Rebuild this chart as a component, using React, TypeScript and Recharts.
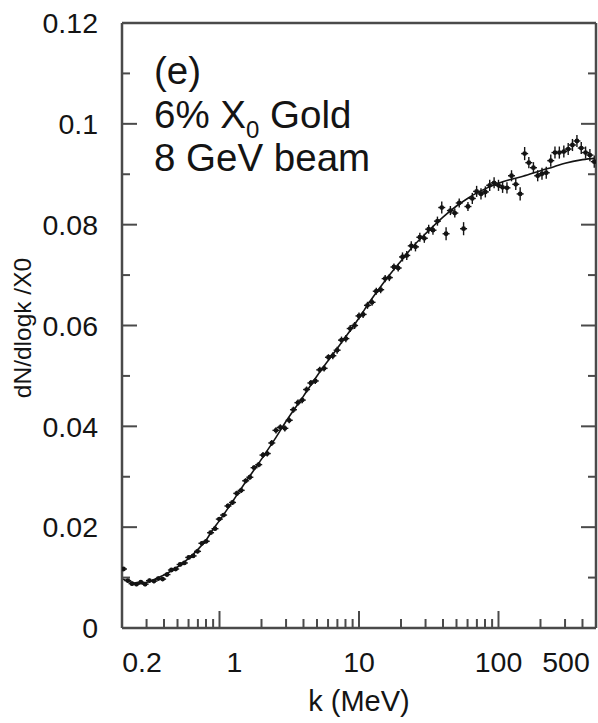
import { ComposedChart, Line, Scatter, ErrorBar, XAxis, YAxis, ReferenceLine } from 'recharts';

// photon energy bins (MeV) and measured dN/dlogk /X0 with errors
const kValues = [
  0.205, 0.22, 0.236, 0.254, 0.273, 0.293, 0.315, 0.339, 0.364, 0.391, 0.42, 0.452, 0.485, 0.522, 0.56, 0.602,
  0.647, 0.696, 0.748, 0.803, 0.863, 0.928, 0.997, 1.07, 1.15, 1.24, 1.33, 1.43, 1.54, 1.65, 1.77, 1.91,
  2.05, 2.2, 2.37, 2.54, 2.73, 2.94, 3.16, 3.39, 3.65, 3.92, 4.21, 4.52, 4.86, 5.23, 5.62, 6.04,
  6.49, 6.97, 7.49, 8.05, 8.65, 9.3, 10.0, 10.7, 11.5, 12.4, 13.3, 14.3, 15.4, 16.5, 17.8, 19.1,
  20.5, 22.0, 23.7, 25.4, 27.3, 29.4, 31.6, 33.9, 36.5, 39.2, 42.1, 45.2, 48.6, 52.3, 56.2, 60.4,
  64.9, 69.7, 74.9, 80.5, 86.5, 93.0, 100, 107, 115, 124, 133, 143, 154, 165, 178, 191,
  205, 220, 237, 254, 273, 294, 316, 339, 365, 392, 421, 452, 486,
];

const yieldValues = [
  0.0117, 0.0094, 0.0088, 0.0087, 0.0091, 0.0087, 0.0094, 0.0093, 0.0098, 0.0097, 0.0106, 0.0115, 0.0117, 0.0126, 0.0129, 0.014,
  0.0143, 0.0152, 0.0168, 0.0172, 0.0189, 0.0197, 0.0216, 0.0224, 0.0242, 0.0249, 0.0267, 0.0273, 0.0292, 0.0299, 0.0318, 0.0324,
  0.0343, 0.0346, 0.0367, 0.0392, 0.0398, 0.0396, 0.0412, 0.0433, 0.0447, 0.0452, 0.0473, 0.0486, 0.049, 0.0512, 0.0515, 0.0537,
  0.054, 0.0551, 0.0571, 0.0574, 0.0594, 0.06, 0.0619, 0.0622, 0.064, 0.0646, 0.0668, 0.0671, 0.0693, 0.0695, 0.0716, 0.0714,
  0.0736, 0.0739, 0.0758, 0.0756, 0.0775, 0.0773, 0.0791, 0.0789, 0.0807, 0.0834, 0.0782, 0.0828, 0.0823, 0.0843, 0.0792, 0.0836,
  0.0852, 0.0866, 0.0861, 0.0865, 0.0878, 0.0883, 0.0878, 0.0874, 0.0873, 0.0897, 0.088, 0.0861, 0.0941, 0.0923, 0.0913, 0.0897,
  0.0901, 0.0903, 0.0927, 0.0943, 0.0943, 0.0945, 0.095, 0.0958, 0.0966, 0.0952, 0.0943, 0.0938, 0.0925,
];

const errValues = [
  0.0004, 0.0004, 0.0004, 0.0004, 0.0004, 0.0004, 0.0004, 0.0004, 0.0004, 0.0004, 0.0004, 0.0004, 0.0004, 0.0004, 0.0004, 0.0004,
  0.0004, 0.0004, 0.0004, 0.0004, 0.0004, 0.0004, 0.0004, 0.0004, 0.0005, 0.0005, 0.0005, 0.0005, 0.0005, 0.0005, 0.0005, 0.0005,
  0.0006, 0.0006, 0.0006, 0.0006, 0.0006, 0.0006, 0.0006, 0.0006, 0.0006, 0.0006, 0.0006, 0.0006, 0.0006, 0.0006, 0.0006, 0.0006,
  0.0007, 0.0007, 0.0007, 0.0007, 0.0007, 0.0007, 0.0007, 0.0007, 0.0007, 0.0007, 0.0007, 0.0007, 0.0007, 0.0007, 0.0007, 0.0007,
  0.0009, 0.0009, 0.0009, 0.0009, 0.0009, 0.0009, 0.0009, 0.0009, 0.0009, 0.0012, 0.0013, 0.0009, 0.0009, 0.0009, 0.0013, 0.0009,
  0.0011, 0.0011, 0.0011, 0.0011, 0.0011, 0.0011, 0.0011, 0.0011, 0.0011, 0.0011, 0.0011, 0.0013, 0.0013, 0.0011, 0.0011, 0.0011,
  0.0012, 0.0012, 0.0012, 0.0012, 0.0012, 0.0012, 0.0012, 0.0012, 0.0012, 0.0012, 0.0012, 0.0012, 0.0012,
];

// simulation curve
const curveK = [
  0.2, 0.22, 0.25, 0.28, 0.32, 0.36, 0.4, 0.45, 0.5, 0.56, 0.63, 0.7, 0.8, 0.9, 1, 1.2, 1.5, 2, 2.5, 3, 4, 5,
  6, 7, 8, 10, 12, 15, 20, 25, 30, 40, 50, 60, 70, 80, 100, 120, 150, 200, 250, 300, 400, 500,
];
const curveV = [
  0.0098, 0.0093, 0.0089, 0.0089, 0.0093, 0.0099, 0.0105, 0.0113, 0.0121, 0.0131, 0.0143, 0.0156, 0.0174, 0.0196,
  0.0213, 0.0245, 0.0285, 0.0335, 0.0375, 0.041, 0.046, 0.05, 0.053, 0.0555, 0.0577, 0.0615, 0.0648, 0.0685, 0.0728,
  0.076, 0.0782, 0.0815, 0.0837, 0.0852, 0.0863, 0.0871, 0.0882, 0.0889, 0.0896, 0.0907, 0.0915, 0.0922, 0.0929, 0.0932,
];

const xTicks = [0.2, 0.3, 0.4, 0.5, 0.6, 0.7, 0.8, 0.9, 1, 2, 3, 4, 5, 6, 7, 8, 9, 10, 20, 30, 40, 50, 60, 70, 80, 90, 100, 200, 300, 400, 500];
const xMajor = [1, 10, 100];
const xLabels: Record<number, string> = { 0.2: '0.2', 1: '1', 10: '10', 100: '100', 500: '500' };
const yTicks = [0, 0.01, 0.02, 0.03, 0.04, 0.05, 0.06, 0.07, 0.08, 0.09, 0.1, 0.11, 0.12];

const FONT = '"Liberation Sans", Arial, sans-serif';
const AXIS = '#4a4a4a';
const INK = '#141414';

// label nudges as placed in the original figure
const labelShift: Record<number, number> = { 0.2: 20, 1: 15, 500: -30 };

const XTick = (props: any) => {
  const { x, y, payload } = props;
  const v = payload.value;
  const edge = v === 0.2 || v === 500;
  const len = xMajor.includes(v) ? 17 : 9;
  return (
    <g>
      {!edge && <line x1={x} x2={x} y1={y} y2={y - len} stroke={AXIS} strokeWidth={2} />}
      {xLabels[v] && (
        <text x={x + (labelShift[v] || 0)} y={y + 44} textAnchor="middle" fontSize={28.5} fontFamily={FONT} fill={INK}>
          {xLabels[v]}
        </text>
      )}
    </g>
  );
};

const YTickLeft = (props: any) => {
  const { x, y, payload } = props;
  const major = Math.round(payload.value * 100) % 2 === 0;
  return (
    <g>
      <line x1={x} x2={x + (major ? 15 : 8)} y1={y} y2={y} stroke={AXIS} strokeWidth={2} />
      {major && (
        <text x={x - 24} y={y} dy="0.36em" textAnchor="end" fontSize={28.5} fontFamily={FONT} fill={INK}>
          {String(Number(payload.value.toFixed(2)))}
        </text>
      )}
    </g>
  );
};

const YTickRight = (props: any) => {
  const { x, y, payload } = props;
  const major = Math.round(payload.value * 100) % 2 === 0;
  return <line x1={x} x2={x - (major ? 15 : 8)} y1={y} y2={y} stroke={AXIS} strokeWidth={2} />;
};

const Marker = (props: any) => {
  const { cx, cy } = props;
  return (
    <g>
      <circle cx={cx} cy={cy} r={2.4} fill={INK} />
      <line x1={cx - 3.5} x2={cx + 3.5} y1={cy} y2={cy} stroke={INK} strokeWidth={1.4} />
    </g>
  );
};

export default function App() {
  const points = kValues.map((k, i) => ({ k, v: yieldValues[i], err: errValues[i] }));
  const curve = curveK.map((k, i) => ({ k, v: curveV[i] }));

  return (
    <div style={{ position: 'absolute', left: 0, top: 0, width: 598, height: 723, background: '#fff' }}>
      <ComposedChart width={598} height={723} margin={{ top: 23, right: 0, bottom: 0, left: 0 }}>
        <XAxis
          xAxisId="b"
          dataKey="k"
          type="number"
          scale="log"
          domain={[0.2, 500]}
          allowDataOverflow
          ticks={xTicks}
          interval={0}
          height={95}
          tickSize={0}
          tickMargin={0}
          axisLine={{ stroke: AXIS, strokeWidth: 2.5 }}
          tick={<XTick />}
        />
        <YAxis
          yAxisId="l"
          type="number"
          domain={[0, 0.12]}
          allowDataOverflow
          ticks={yTicks}
          interval={0}
          width={122}
          tickSize={0}
          tickMargin={0}
          axisLine={{ stroke: AXIS, strokeWidth: 2.5 }}
          tick={<YTickLeft />}
        />
        <YAxis
          yAxisId="r"
          orientation="right"
          type="number"
          domain={[0, 0.12]}
          allowDataOverflow
          ticks={yTicks}
          interval={0}
          width={2}
          tickSize={0}
          tickMargin={0}
          axisLine={{ stroke: AXIS, strokeWidth: 2.5 }}
          tick={<YTickRight />}
        />
        <ReferenceLine xAxisId="b" yAxisId="l" y={0.12} stroke={AXIS} strokeWidth={2.5} />
        <Line
          xAxisId="b"
          yAxisId="l"
          data={curve}
          dataKey="v"
          type="monotone"
          dot={false}
          stroke={INK}
          strokeWidth={1.6}
          isAnimationActive={false}
        />
        <Scatter xAxisId="b" yAxisId="l" data={points} dataKey="v" shape={<Marker />} isAnimationActive={false}>
          <ErrorBar dataKey="err" direction="y" width={0} stroke={INK} strokeWidth={1.4} isAnimationActive={false} />
        </Scatter>
      </ComposedChart>
      <svg width={598} height={723} style={{ position: 'absolute', left: 0, top: 0, pointerEvents: 'none' }}>
        <g fontFamily={FONT} fill={INK}>
          <text x={154} y={84} fontSize={38.5}>(e)</text>
          <text x={154} y={128} fontSize={38.5}>
            <tspan>6% X</tspan>
            <tspan fontSize={24} dy={10}>0</tspan>
            <tspan dy={-10}> Gold</tspan>
          </text>
          <text x={154} y={171} fontSize={38.5}>8 GeV beam</text>
          <text x={359} y={711} fontSize={29} textAnchor="middle">k (MeV)</text>
          <text x={31} y={328} fontSize={24.5} textAnchor="middle" transform="rotate(-90 31 328)">dN/dlogk /X0</text>
        </g>
      </svg>
    </div>
  );
}
